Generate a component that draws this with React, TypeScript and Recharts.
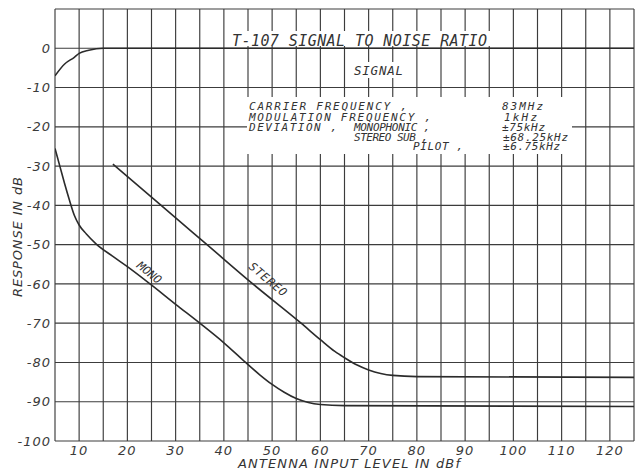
import { LineChart, Line, XAxis, YAxis, CartesianGrid } from "recharts";

// grid every 5 dBf / 10 dB, labels every 10
const X_GRID = [5, 10, 15, 20, 25, 30, 35, 40, 45, 50, 55, 60, 65, 70, 75, 80, 85, 90, 95, 100, 105, 110, 115, 120, 125];
const X_LABELS = [10, 20, 30, 40, 50, 60, 70, 80, 90, 100, 110, 120];
const Y_GRID = [-100, -90, -80, -70, -60, -50, -40, -30, -20, -10, 0, 10];
const Y_LABELS = [-100, -90, -80, -70, -60, -50, -40, -30, -20, -10, 0];

// signal (dB) vs antenna input (dBf)
const signalX = [5, 7, 9, 10, 12, 15, 125];
const signalDb = [-7, -4, -2.3, -1.3, -0.5, 0, 0];

const monoX = [5, 6, 7, 8, 9, 10, 11.5, 13.5, 17, 20, 24.7, 30, 35, 40, 44.5, 47.5, 50, 52.5, 55, 57.5, 60, 65, 125];
const monoDb = [-25.5, -30, -34.5, -38.7, -42.5, -45, -47.3, -49.8, -53, -55.6, -60, -65.2, -70, -75, -80, -83.2, -85.6, -87.6, -89.2, -90.2, -90.7, -91, -91.2];

const stereoX = [17, 27, 36.5, 46, 56, 60, 63, 65, 67.5, 70, 72.5, 75, 80, 125];
const stereoDb = [-29.5, -40, -50, -60, -70, -74.2, -77.2, -78.8, -80.6, -81.9, -82.8, -83.3, -83.6, -83.8];

const paramLabels = ["CARRIER FREQUENCY ,", "MODULATION FREQUENCY ,", "DEVIATION ,", "STEREO SUB ,", "PILOT ,"];
const deviationKinds = ["MONOPHONIC ,"];
const paramValues = ["83MHz", "1kHz", "±75kHz", "±68.25kHz", "±6.75kHz"];

const toRows = (xs: number[], ys: number[]) => xs.map((x, i) => ({ x, y: ys[i] }));

const INK = "#2b2b2b";
const FONT = "'DejaVu Sans', sans-serif";
const MONO_FONT = "'DejaVu Sans Mono', monospace";
const TICK = { fontFamily: FONT, fontStyle: "italic", fontSize: 13, fill: "#3a3a3a", letterSpacing: 1 } as const;

// where the lettering sits (pixels)
const ROW_Y = [110, 120.5, 130.5, 140.5, 150];
const LABEL_X = [249, 249, 249, 354, 413];
const LABEL_W = [158, 182, 88, 74, 50];
const VALUE_X = [502, 504, 502, 503, 503];
const VALUE_W = [41, 33, 43, 65, 57];

export default function App() {
  const signal = toRows(signalX, signalDb);
  const mono = toRows(monoX, monoDb);
  const stereo = toRows(stereoX, stereoDb);

  const txt = { fontFamily: FONT, fontStyle: "italic", fill: "#333" } as const;
  const plot = { fontFamily: MONO_FONT, fontStyle: "italic", fill: "#333" } as const;

  return (
    <div style={{ position: "absolute", left: 0, top: 0, width: 644, height: 476, background: "#fff" }}>
      <LineChart width={644} height={476} margin={{ top: 9, right: 10, bottom: 0, left: 0 }}>
        <CartesianGrid stroke="#3c3c3c" strokeWidth={1.15} />
        <XAxis
          type="number"
          dataKey="x"
          domain={[5, 125]}
          ticks={X_GRID}
          interval={0}
          tickFormatter={(v: number) => (X_LABELS.includes(v) ? String(v) : "")}
          axisLine={false}
          tickLine={false}
          tickSize={3}
          tickMargin={2}
          height={35}
          tick={TICK}
          allowDataOverflow
        />
        <YAxis
          type="number"
          domain={[-100, 10]}
          ticks={Y_GRID}
          interval={0}
          tickFormatter={(v: number) => (Y_LABELS.includes(v) ? String(v) : "")}
          axisLine={false}
          tickLine={false}
          tickSize={3}
          tickMargin={1}
          width={55}
          tick={TICK}
          allowDataOverflow
        />
        <Line data={signal} dataKey="y" type="monotone" stroke={INK} strokeWidth={1.6} dot={false} isAnimationActive={false} />
        <Line data={mono} dataKey="y" type="monotone" stroke={INK} strokeWidth={1.6} dot={false} isAnimationActive={false} />
        <Line data={stereo} dataKey="y" type="monotone" stroke={INK} strokeWidth={1.6} dot={false} isAnimationActive={false} />
      </LineChart>

      <svg width={644} height={476} style={{ position: "absolute", left: 0, top: 0, pointerEvents: "none" }}>
        {/* paper masks behind the lettering */}
        <rect x={228} y={31} width={264} height={15} fill="#fff" />
        <rect x={349} y={62} width={60} height={16} fill="#fff" />
        <rect x={247} y={97} width={325} height={57} fill="#fff" />

        <text {...plot} x={232} y={46} fontSize={15} textLength={255}>
          T-107 SIGNAL TO NOISE RATIO
        </text>
        <text {...plot} x={354} y={75} fontSize={12.5} textLength={49}>
          SIGNAL
        </text>
        {paramLabels.map((label, i) => (
          <g key={label}>
            <text {...plot} x={LABEL_X[i]} y={ROW_Y[i]} fontSize={11} textLength={LABEL_W[i]}>
              {label}
            </text>
            <text {...plot} x={VALUE_X[i]} y={ROW_Y[i]} fontSize={11} textLength={VALUE_W[i]}>
              {paramValues[i]}
            </text>
          </g>
        ))}
        <text {...plot} x={354} y={ROW_Y[2]} fontSize={11} textLength={76}>
          {deviationKinds[0]}
        </text>

        <text {...plot} x={149} y={273} fontSize={11.5} textAnchor="middle" dominantBaseline="middle" transform="rotate(39 149 273)">
          MONO
        </text>
        <text {...plot} x={268} y={280} fontSize={11.5} textAnchor="middle" dominantBaseline="middle" transform="rotate(40 268 280)" letterSpacing={0.8}>
          STEREO
        </text>

        <text {...txt} x={238} y={468} fontSize={13} textLength={222}>
          ANTENNA INPUT LEVEL IN dBf
        </text>
        <text {...txt} x={18} y={237} fontSize={13} textAnchor="middle" dominantBaseline="middle" transform="rotate(-90 18 237)" textLength={120}>
          RESPONSE IN dB
        </text>
      </svg>
    </div>
  );
}
